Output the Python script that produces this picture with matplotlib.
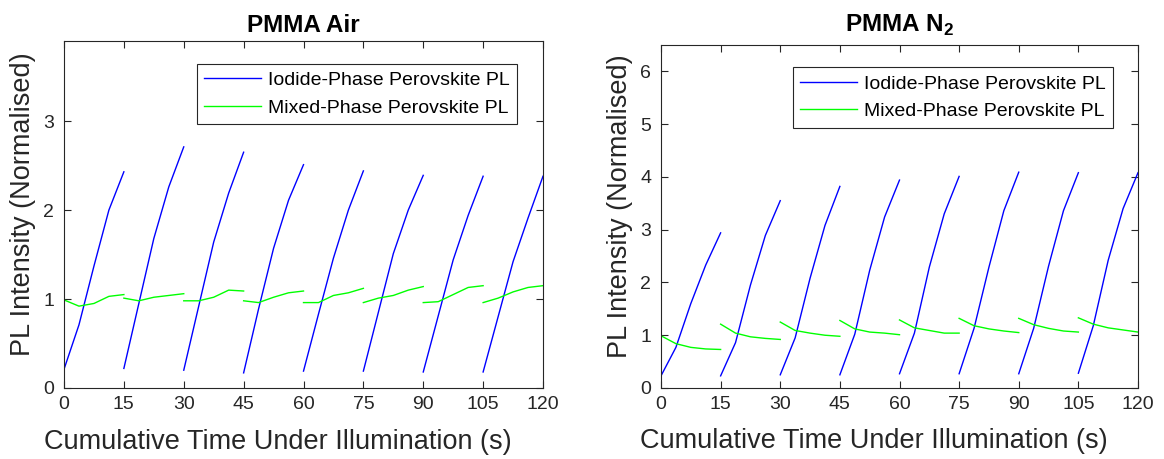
import numpy as np
import matplotlib
matplotlib.use('Agg')
import matplotlib.pyplot as plt

# time within each 15 s illumination cycle and the start of each cycle
cycle_times = [0, 3.75, 7.5, 11.25, 15]
cycle_starts = [0, 15, 30, 45, 60, 75, 90, 105]

# PMMA Air
air_iodide = [
	[0.21, 0.71, 1.37, 2.00, 2.43],
	[0.22, 0.95, 1.68, 2.26, 2.71],
	[0.20, 0.92, 1.64, 2.19, 2.65],
	[0.17, 0.89, 1.57, 2.11, 2.51],
	[0.19, 0.83, 1.46, 2.00, 2.44],
	[0.19, 0.85, 1.51, 2.00, 2.39],
	[0.18, 0.81, 1.44, 1.94, 2.38],
	[0.18, 0.80, 1.42, 1.91, 2.38],
]
air_mixed = [
	[0.99, 0.92, 0.95, 1.03, 1.05],
	[1.01, 0.98, 1.02, 1.04, 1.06],
	[0.98, 0.98, 1.02, 1.10, 1.09],
	[0.98, 0.96, 1.02, 1.07, 1.09],
	[0.96, 0.96, 1.04, 1.07, 1.12],
	[0.96, 1.01, 1.04, 1.10, 1.14],
	[0.96, 0.97, 1.05, 1.13, 1.15],
	[0.96, 1.01, 1.08, 1.13, 1.15],
]

# PMMA N2
n2_iodide = [
	[0.23, 0.77, 1.60, 2.33, 2.94],
	[0.23, 0.86, 1.95, 2.89, 3.55],
	[0.25, 0.95, 2.08, 3.08, 3.82],
	[0.25, 1.02, 2.23, 3.24, 3.94],
	[0.27, 1.04, 2.29, 3.30, 4.01],
	[0.27, 1.13, 2.29, 3.36, 4.09],
	[0.27, 1.13, 2.31, 3.36, 4.08],
	[0.28, 1.18, 2.42, 3.40, 4.08],
]
n2_mixed = [
	[0.99, 0.84, 0.77, 0.74, 0.73],
	[1.21, 1.04, 0.97, 0.94, 0.92],
	[1.25, 1.09, 1.04, 1.00, 0.98],
	[1.28, 1.12, 1.06, 1.04, 1.01],
	[1.29, 1.14, 1.09, 1.04, 1.04],
	[1.32, 1.18, 1.12, 1.08, 1.05],
	[1.32, 1.20, 1.13, 1.08, 1.06],
	[1.33, 1.21, 1.14, 1.10, 1.06],
]

x_ticks = [0, 15, 30, 45, 60, 75, 90, 105, 120]

plt.rcParams['font.family'] = ['Liberation Sans', 'DejaVu Sans']
plt.rcParams['mathtext.fontset'] = 'custom'
plt.rcParams['mathtext.rm'] = 'Liberation Sans'
plt.rcParams['mathtext.bf'] = 'Liberation Sans:bold'

axis_col = '#262626'


def draw_panel(ax, iodide, mixed, title, title_pad, ymax, yticks, leg_anchor) :
	for i, start in enumerate(cycle_starts) :
		t = [start + c for c in cycle_times]
		ax.plot(t, iodide[i], color = 'b', lw = 1.0,
				label = 'Iodide-Phase Perovskite PL' if i == 0 else None)
		ax.plot(t, mixed[i], color = '#00ff00', lw = 1.0,
				label = 'Mixed-Phase Perovskite PL' if i == 0 else None)

	ax.set_xlim(0, 120)
	ax.set_ylim(0, ymax)
	ax.set_xticks(x_ticks)
	ax.set_yticks(yticks)
	ax.tick_params(direction = 'in', top = True, right = True, length = 5,
				   width = 0.8, labelsize = 14, colors = axis_col)
	ax.tick_params(axis = 'y', pad = 7)
	ax.tick_params(axis = 'x', pad = 6)
	for s in ax.spines.values() :
		s.set_color(axis_col)
		s.set_linewidth(0.8)
	ax.set_xlabel('Cumulative Time Under Illumination (s)', fontsize = 19.5, color = axis_col)
	ax.set_ylabel('PL Intensity (Normalised)', fontsize = 19.5, color = axis_col, labelpad = 5)
	# labels in the original sit a little left of / above the axes centre
	ax.xaxis.set_label_coords(0.447, -0.118)
	ax.yaxis.label.set_y(0.53)
	ax.set_title(title, fontsize = 17.5, fontweight = 'bold', pad = title_pad)

	leg = ax.legend(loc = 'upper right', bbox_to_anchor = leg_anchor, fontsize = 14,
					fancybox = False, framealpha = 1, edgecolor = axis_col,
					handlelength = 2.9, borderpad = 0.4, labelspacing = 0.5,
					handletextpad = 0.35, borderaxespad = 0)
	leg.get_frame().set_linewidth(0.8)


fig = plt.figure(figsize = (11.64, 4.59), dpi = 100)
ax1 = fig.add_axes([64/1164, 71/459, 479/1164, 347/459])
ax2 = fig.add_axes([661/1164, 71/459, 477/1164, 343/459])

draw_panel(ax1, air_iodide, air_mixed, 'PMMA Air', 6.5, 3.9, [0, 1, 2, 3], (0.946, 0.934))
draw_panel(ax2, n2_iodide, n2_mixed, r'PMMA N$_\mathbf{2}$', 9.5, 6.5, [0, 1, 2, 3, 4, 5, 6], (0.948, 0.935))

plt.savefig('out.png', dpi = 100)
